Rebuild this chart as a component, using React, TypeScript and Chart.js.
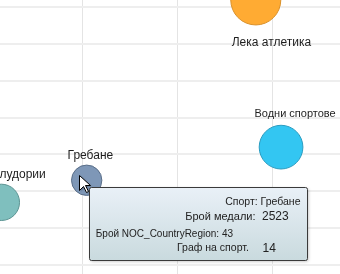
import React, { useEffect, useRef } from "react";
import { Chart, registerables } from "chart.js";

Chart.register(...registerables);

// ---- data ----
const sports = ["Гимнастически лудории", "Гребане", "Водни спортове", "Лека атлетика"];
const medals = [2074, 2523, 3546, 3413];
const countries = [37, 43, 52, 92];
const events = [20, 14, 29, 38];
const fillColors = ["#7FBFBE", "#7E97B7", "#33C6F2", "#FFAB33"];
const edgeColors = ["#5C9493", "#5A6E88", "#2B9CC0", "#D9912C"];
const xGridTicks = [2500, 3000, 3500];
const yGridTicks = [20, 30, 40, 50, 60, 70, 80, 90];
const hoveredIndex = 1;

// ---- style / layout ----
const FONT = '"Liberation Sans", Arial, sans-serif';
const RADIUS_K = 4.06;
const labelLayout = [
  { dx: 44.4, dy: -28, align: "right" as CanvasTextAlign, size: 12 },
  { dx: 3.7, dy: -24.8, align: "center" as CanvasTextAlign, size: 12 },
  { dx: 14, dy: -33.5, align: "center" as CanvasTextAlign, size: 11 },
  { dx: 15.6, dy: 42.5, align: "center" as CanvasTextAlign, size: 12 },
];

const labelPlugin = {
  id: "bubbleLabels",
  afterDatasetsDraw(chart: any) {
    const ctx = chart.ctx;
    const meta = chart.getDatasetMeta(0);
    ctx.save();
    ctx.fillStyle = "#1e1e1e";
    ctx.textBaseline = "middle";
    meta.data.forEach((el: any, i: number) => {
      const l = labelLayout[i];
      ctx.font = `${l.size}px ${FONT}`;
      ctx.textAlign = l.align;
      ctx.fillText(sports[i], el.x + l.dx, el.y + l.dy);
    });
    ctx.restore();
  },
};

function roundRect(ctx: CanvasRenderingContext2D, x: number, y: number, w: number, h: number, r: number) {
  ctx.beginPath();
  ctx.moveTo(x + r, y);
  ctx.lineTo(x + w - r, y);
  ctx.quadraticCurveTo(x + w, y, x + w, y + r);
  ctx.lineTo(x + w, y + h - r);
  ctx.quadraticCurveTo(x + w, y + h, x + w - r, y + h);
  ctx.lineTo(x + r, y + h);
  ctx.quadraticCurveTo(x, y + h, x, y + h - r);
  ctx.lineTo(x, y + r);
  ctx.quadraticCurveTo(x, y, x + r, y);
  ctx.closePath();
}

const tooltipPlugin = {
  id: "fakeTooltip",
  afterDraw(chart: any) {
    const ctx: CanvasRenderingContext2D = chart.ctx;
    const el = chart.getDatasetMeta(0).data[hoveredIndex];
    if (!el) return;
    const i = hoveredIndex;

    // cursor
    const cx = Math.round(el.x - 8) + 0.5;
    const cy = Math.round(el.y - 5.5) + 0.5;
    const pts = [[0, 0], [0, 15], [4, 11], [7, 17], [9, 16], [6, 10], [11, 10]];
    ctx.save();
    ctx.shadowColor = "rgba(0,0,0,0.3)";
    ctx.shadowBlur = 2;
    ctx.shadowOffsetX = 1;
    ctx.shadowOffsetY = 1;
    ctx.beginPath();
    pts.forEach((p, k) => (k ? ctx.lineTo(cx + p[0], cy + p[1]) : ctx.moveTo(cx + p[0], cy + p[1])));
    ctx.closePath();
    ctx.fillStyle = "#ffffff";
    ctx.fill();
    ctx.shadowColor = "transparent";
    ctx.strokeStyle = "#000000";
    ctx.lineWidth = 1;
    ctx.stroke();
    ctx.restore();

    // box
    const bx = Math.round(el.x + 2.7) + 0.5;
    const by = Math.round(el.y + 6.7) + 0.5;
    const bw = 218;
    const bh = 73;
    ctx.save();
    ctx.shadowColor = "rgba(0,0,0,0.25)";
    ctx.shadowBlur = 3;
    ctx.shadowOffsetX = 1;
    ctx.shadowOffsetY = 1;
    const g = ctx.createLinearGradient(0, by, 0, by + bh);
    g.addColorStop(0, "#E9F0F7");
    g.addColorStop(1, "#C9DADE");
    roundRect(ctx, bx, by, bw, bh, 2);
    ctx.fillStyle = g;
    ctx.fill();
    ctx.shadowColor = "transparent";
    ctx.strokeStyle = "#3a3a3a";
    ctx.lineWidth = 1;
    ctx.stroke();

    ctx.fillStyle = "#222222";
    ctx.textBaseline = "middle";
    ctx.font = `10.5px ${FONT}`;
    ctx.textAlign = "right";
    ctx.fillText(`Спорт: ${sports[i]}`, bx + 211, by + 14.7);

    ctx.font = `11px ${FONT}`;
    ctx.fillText("Брой медали:", bx + 166, by + 29.3);
    ctx.font = `12px ${FONT}`;
    ctx.textAlign = "left";
    ctx.fillText(String(medals[i]), bx + 172.5, by + 29.3);

    ctx.font = `10px ${FONT}`;
    ctx.fillText(`Брой NOC_CountryRegion: ${countries[i]}`, bx + 6.3, by + 46.7);

    ctx.font = `10.5px ${FONT}`;
    ctx.textAlign = "right";
    ctx.fillText("Граф на спорт.", bx + 159.3, by + 61);
    ctx.font = `12px ${FONT}`;
    ctx.textAlign = "left";
    ctx.fillText(String(events[i]), bx + 173, by + 61);
    ctx.restore();
  },
};

export default function App() {
  const ref = useRef<HTMLCanvasElement>(null);
  useEffect(() => {
    document.body.style.margin = "0";
    const canvas = ref.current!;
    const chart = new Chart(canvas, {
      type: "bubble",
      data: {
        datasets: [
          {
            data: sports.map((_, i) => ({ x: medals[i], y: countries[i], r: RADIUS_K * Math.sqrt(events[i]) })),
            backgroundColor: fillColors,
            borderColor: edgeColors,
            borderWidth: 1,
            hoverRadius: 0,
            clip: false as any,
          },
        ],
      },
      options: {
        animation: false,
        responsive: false,
        layout: { padding: 0, autoPadding: false },
        events: [],
        plugins: { legend: { display: false }, tooltip: { enabled: false } },
        scales: {
          x: {
            type: "linear",
            min: 2066.8,
            max: 3856.3,
            border: { display: false },
            grid: { color: "#E4E4E4", lineWidth: 1, drawTicks: false },
            ticks: { display: false },
            afterBuildTicks: (s: any) => { s.ticks = xGridTicks.map((v) => ({ value: v })); },
            afterFit: (s: any) => { s.height = 0; },
          },
          y: {
            type: "linear",
            min: 17.53,
            max: 91.98,
            border: { display: false },
            grid: { color: "#EEEEEE", lineWidth: 2, drawTicks: false },
            ticks: { display: false },
            afterBuildTicks: (s: any) => { s.ticks = yGridTicks.map((v) => ({ value: v })); },
            afterFit: (s: any) => { s.width = 0; },
          },
        },
      },
      plugins: [labelPlugin, tooltipPlugin],
    });
    return () => chart.destroy();
  }, []);
  return (
    <div style={{ position: "absolute", left: 0, top: 0, width: 340, height: 274, background: "#fff" }}>
      <canvas ref={ref} width={340} height={274} style={{ display: "block" }} />
    </div>
  );
}
